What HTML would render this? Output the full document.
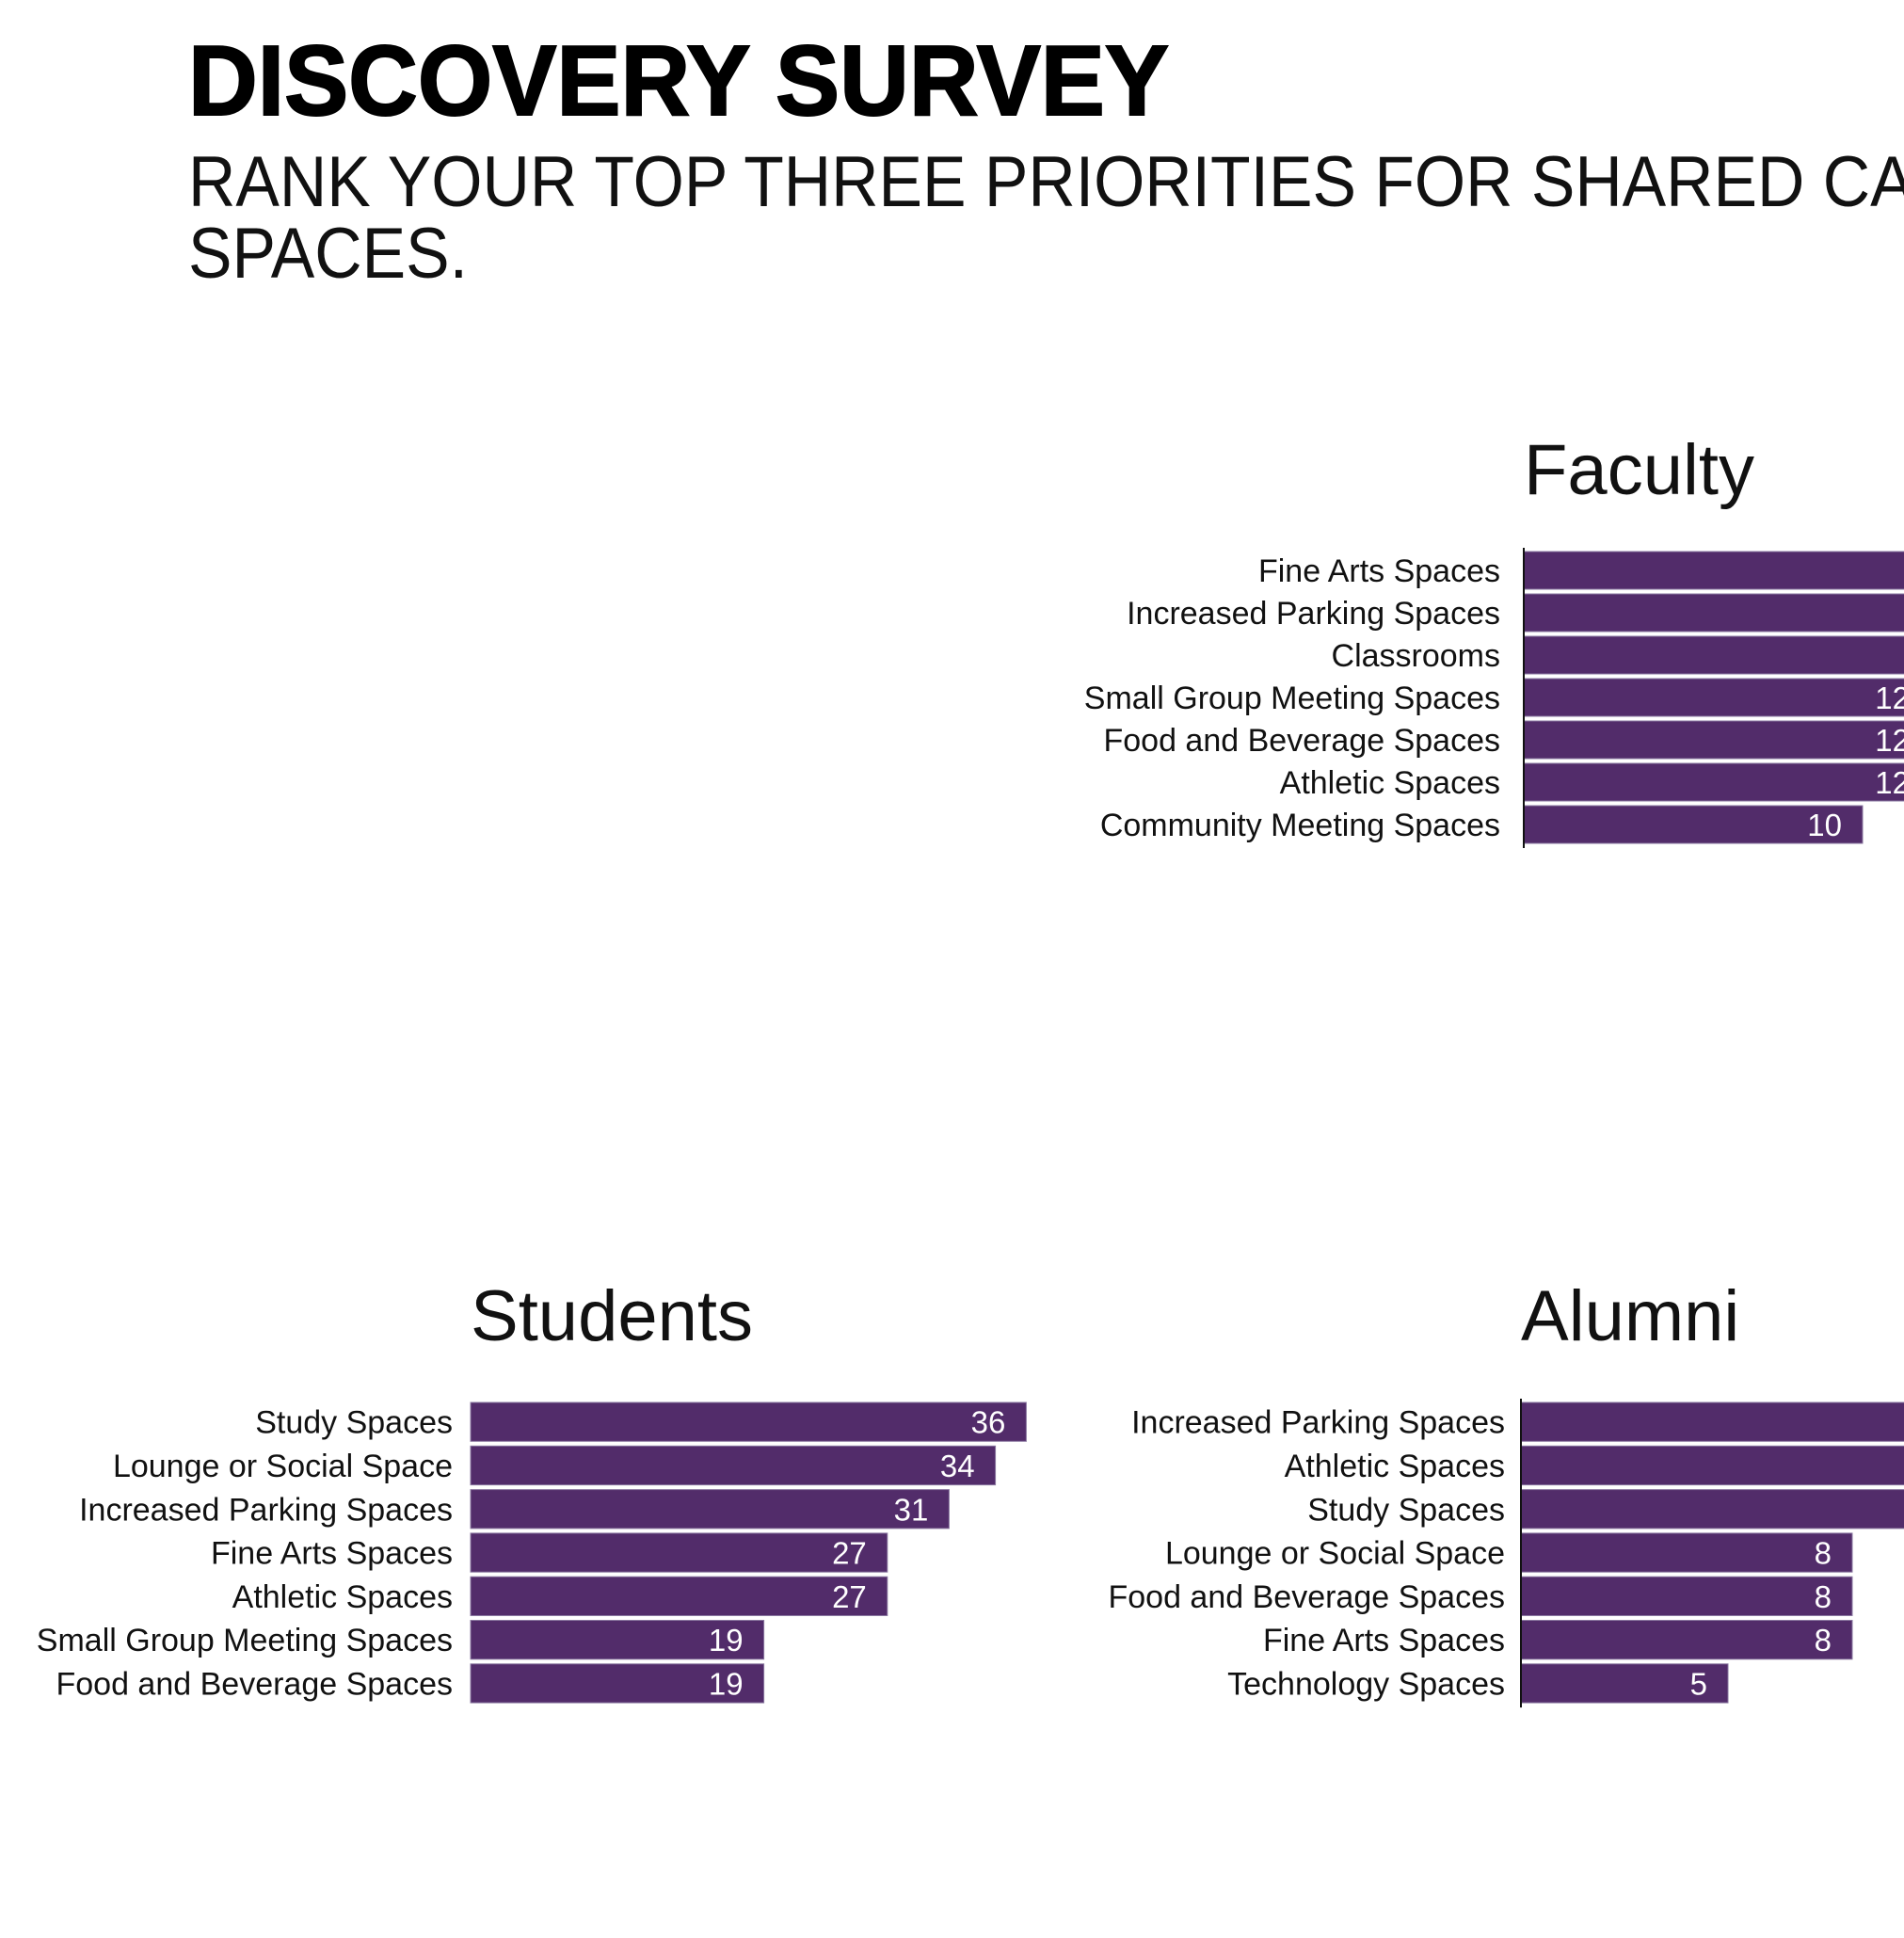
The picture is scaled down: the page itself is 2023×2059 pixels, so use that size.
<!DOCTYPE html>
<html><head><meta charset="utf-8"><style>
html,body{margin:0;padding:0;background:#fff;width:2023px;height:2059px;overflow:hidden}
svg{display:block;font-family:"Liberation Sans",sans-serif}
</style></head><body>
<svg id="root" width="2023" height="2059" viewBox="0 0 2023 2059">
<text x="200" y="122" font-size="106" font-weight="bold" stroke="#000" stroke-width="2" textLength="1042" lengthAdjust="spacingAndGlyphs">DISCOVERY SURVEY</text>
<text x="200" y="219" font-size="76" textLength="2035" lengthAdjust="spacingAndGlyphs" fill="#111">RANK YOUR TOP THREE PRIORITIES FOR SHARED CAMPUS</text>
<text x="200" y="295" font-size="76" textLength="297" lengthAdjust="spacingAndGlyphs" fill="#111">SPACES.</text>
<g id="charts"></g>
</svg>
<script>
const facultyCats = ["Fine Arts Spaces","Increased Parking Spaces","Classrooms","Small Group Meeting Spaces","Food and Beverage Spaces","Athletic Spaces","Community Meeting Spaces"];
const facultyVals = [15,14,13,12,12,12,10];
const studentCats = ["Study Spaces","Lounge or Social Space","Increased Parking Spaces","Fine Arts Spaces","Athletic Spaces","Small Group Meeting Spaces","Food and Beverage Spaces"];
const studentVals = [36,34,31,27,27,19,19];
const alumniCats = ["Increased Parking Spaces","Athletic Spaces","Study Spaces","Lounge or Social Space","Food and Beverage Spaces","Fine Arts Spaces","Technology Spaces"];
const alumniVals = [12,11,11,8,8,8,5];

const NS = "http://www.w3.org/2000/svg";
const root = document.getElementById('charts');
function mk(tag, attrs, parent){ const e=document.createElementNS(NS,tag); for(const k in attrs) e.setAttribute(k,attrs[k]); parent.appendChild(e); return e; }

function chart(name, title, cats, vals, axisX, top, pitch, pxPerUnit, titleY, showAxis, gap, titleSize){
  const g = mk('g',{},root);
  
  
  const t = mk('text',{x:axisX,y:titleY,'font-size':titleSize,fill:'#111'},g);
  
  
  t.textContent = title;
  const xs = v => axisX + v*pxPerUnit;
  const barH = pitch - 5;
  cats.forEach((c,i)=>{
    const y = top + i*pitch;
    const r = mk('rect',{x:axisX,y:y,width:xs(vals[i])-axisX,height:barH,fill:'#522c6a',stroke:'#8a77a0','stroke-width':1},g);
    
    
    const l = mk('text',{x:axisX-gap,y:y+barH/2+12,'font-size':34,'text-anchor':'end',fill:'#111'},g);
    
    
    l.textContent = c;
    const v = mk('text',{x:xs(vals[i])-22,y:y+barH/2+12,'font-size':33,'text-anchor':'end',fill:'#fff'},g);
    
    
    v.textContent = vals[i];
  });
  if(showAxis){
    const a = mk('line',{x1:axisX,x2:axisX,y1:top-4,y2:top+cats.length*pitch,stroke:'#111','stroke-width':2},g);
    
    
  }
}
chart('faculty','Faculty',facultyCats,facultyVals,1619,586,45,36,525,true,25,76);
chart('students','Students',studentCats,studentVals,500,1490,46.3,16.4,1424,false,19,76);
chart('alumni','Alumni',alumniCats,alumniVals,1616,1490,46.3,44,1424,true,17,76);
</script>
</body></html>
